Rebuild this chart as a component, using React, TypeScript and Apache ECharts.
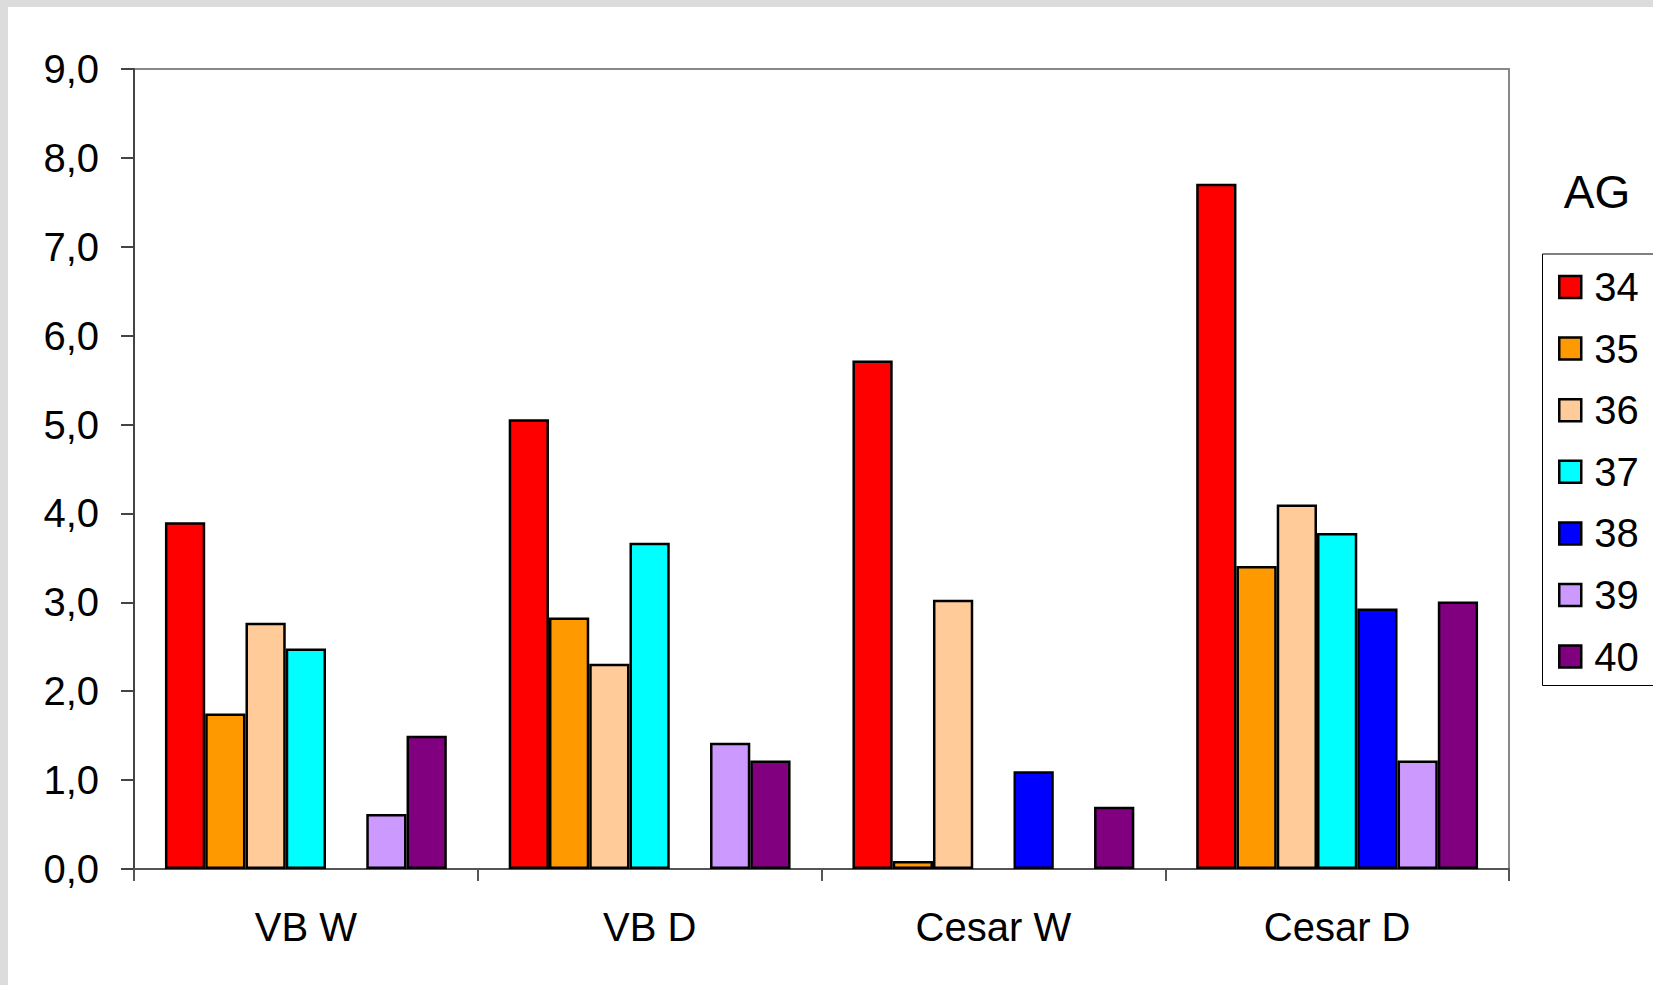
import React, { useEffect, useRef } from "react";
import * as echarts from "echarts";

const categories = ["VB W", "VB D", "Cesar W", "Cesar D"];
const seriesNames = ["34", "35", "36", "37", "38", "39", "40"];
const seriesColors = ["#FF0000", "#FF9900", "#FFCC99", "#00FFFF", "#0000FF", "#CC99FF", "#800080"];
const ag34 = [3.9, 5.06, 5.72, 7.71];
const ag35 = [1.75, 2.83, 0.09, 3.41];
const ag36 = [2.77, 2.31, 3.03, 4.1];
const ag37 = [2.48, 3.67, null, 3.78];
const ag38 = [null, null, 1.1, 2.93];
const ag39 = [0.62, 1.42, null, 1.22];
const ag40 = [1.5, 1.22, 0.7, 3.01];
const seriesValues = [ag34, ag35, ag36, ag37, ag38, ag39, ag40];
const yTicks = { min: 0, max: 9, interval: 1 };

const FONT = "'Liberation Sans', Arial, sans-serif";

export default function App() {
  const ref = useRef<HTMLDivElement>(null);
  useEffect(() => {
    if (!ref.current) return;
    const chart = echarts.init(ref.current, null, { renderer: "svg" });
    chart.setOption({
      animation: false,
      backgroundColor: "#dcdcdc",
      textStyle: { fontFamily: FONT },
      graphic: [
        {
          type: "rect",
          z: -10,
          silent: true,
          shape: { x: 8, y: 7, width: 1700, height: 1000 },
          style: { fill: "#ffffff" },
        },
        {
          type: "text",
          x: 1597,
          y: 192,
          style: {
            text: "AG",
            fontFamily: FONT,
            fontSize: 46,
            fill: "#000",
            align: "center",
            verticalAlign: "middle",
          },
        },
        {
          type: "rect",
          shape: { x: 1542.5, y: 254, width: 200, height: 431.5 },
          style: { fill: "none", stroke: "#000", lineWidth: 1 },
        },
      ],
      grid: {
        left: 134,
        right: 144,
        top: 69,
        bottom: 116,
        show: true,
        borderColor: "#888888",
        borderWidth: 2,
        backgroundColor: "transparent",
      },
      legend: {
        orient: "vertical",
        left: 1553,
        top: 260,
        itemWidth: 22,
        itemHeight: 22,
        itemGap: 17.6,
        icon: "rect",
        data: seriesNames,
        itemStyle: { borderColor: "#000", borderWidth: 2.5 },
        textStyle: {
          fontFamily: FONT,
          fontSize: 40,
          lineHeight: 44,
          color: "#000",
          padding: [0, 0, 0, 8],
        },
      },
      xAxis: {
        type: "category",
        data: categories,
        boundaryGap: true,
        axisLine: { lineStyle: { color: "#555555", width: 2 } },
        axisTick: {
          show: true,
          alignWithLabel: false,
          interval: 0,
          length: 12,
          lineStyle: { color: "#555555", width: 2 },
        },
        axisLabel: {
          fontFamily: FONT,
          fontSize: 40,
          color: "#000",
          margin: 38,
        },
      },
      yAxis: {
        type: "value",
        min: yTicks.min,
        max: yTicks.max,
        interval: yTicks.interval,
        splitLine: { show: false },
        axisLine: { show: true, lineStyle: { color: "#444444", width: 2 } },
        axisTick: { show: true, length: 13, lineStyle: { color: "#444444", width: 2 } },
        axisLabel: {
          fontFamily: FONT,
          fontSize: 40,
          color: "#000",
          margin: 35,
          formatter: (v: number) => v.toFixed(1).replace(".", ","),
        },
      },
      series: seriesNames.map((name, i) => ({
        name,
        type: "bar",
        data: seriesValues[i],
        barGap: "0%",
        barCategoryGap: "18%",
        itemStyle: {
          color: seriesColors[i],
          borderColor: "#000",
          borderWidth: 2.5,
        },
      })),
    });
    return () => chart.dispose();
  }, []);
  return (
    <div
      ref={ref}
      style={{ position: "fixed", left: 0, top: 0, width: 1653, height: 985 }}
    />
  );
}
